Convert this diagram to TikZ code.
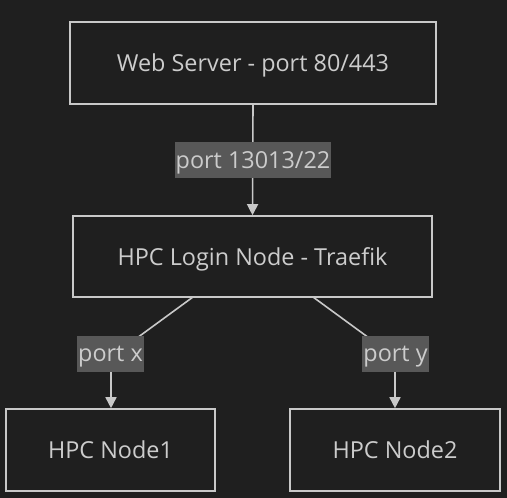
\documentclass[tikz,border=0pt]{standalone}
\usepackage{fontspec}
\setmainfont{Open Sans}
\usetikzlibrary{arrows.meta}
\definecolor{bg}{HTML}{1F1F1F}
\definecolor{edgec}{HTML}{C8C8C8}
\definecolor{txt}{HTML}{CCCCCC}
\definecolor{lblbg}{HTML}{585858}
\begin{document}
\begin{tikzpicture}[x=1pt,y=-1pt,
  box/.style={draw=edgec,line width=1.6pt,fill=bg,text=txt,font=\fontsize{23.4}{28}\selectfont,inner sep=0pt,text depth=0pt},
  lbl/.style={fill=lblbg,text=txt,font=\fontsize{23.4}{28}\selectfont,inner xsep=1pt,inner ysep=0pt,minimum height=36pt,text depth=0pt},
  conn/.style={draw=edgec,line width=1.6pt},
  arr/.style={conn,-{Triangle[width=11pt,length=11pt]}}]
\fill[bg] (0,0) rectangle (507,498);
\useasboundingbox (0,0) rectangle (507,498);
\node[box,minimum width=366pt,minimum height=82pt] (web) at (253,63) {Web Server - port 80/443};
\node[box,minimum width=359pt,minimum height=81pt] (login) at (252.5,256.5) {HPC Login Node - Traefik};
\node[box,minimum width=209pt,minimum height=82pt] (n1) at (110.5,450) {HPC Node1};
\node[box,minimum width=210pt,minimum height=82pt] (n2) at (395,450) {HPC Node2};
\coordinate (la) at (193,297);
\coordinate (lb) at (111,357);
\coordinate (ra) at (313,297);
\coordinate (rb) at (395,357);
\draw[arr] (web.south) -- (login.north);
\draw[conn] (la) -- (lb);
\draw[arr] (lb) -- (n1.north -| lb);
\draw[conn] (ra) -- (rb);
\draw[arr] (rb) -- (n2.north -| rb);
\node[lbl] (l1) at (253,160) {port 13013/22};
\node[lbl] (lx) at (110.5,353.5) {port x};
\node[lbl] (ly) at (395.5,353.5) {port y};
\end{tikzpicture}
\end{document}
